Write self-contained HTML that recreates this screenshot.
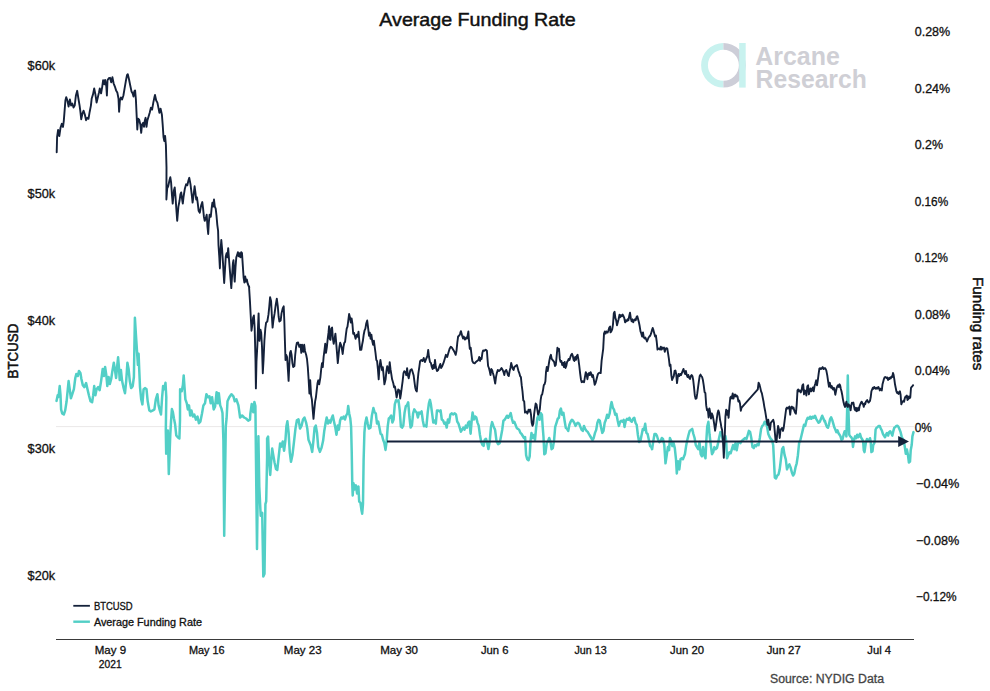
<!DOCTYPE html>
<html><head><meta charset="utf-8"><title>Average Funding Rate</title>
<style>
html,body{margin:0;padding:0;background:#fff;}
body{width:990px;height:691px;overflow:hidden;font-family:"Liberation Sans",sans-serif;}
svg{display:block;font-family:"Liberation Sans",sans-serif;}
</style></head><body>
<svg width="990" height="691" viewBox="0 0 990 691">
<rect width="990" height="691" fill="#ffffff"/>
<text x="379.3" y="25.6" font-size="17.8" text-anchor="start" fill="#111" font-weight="400" textLength="196.3" lengthAdjust="spacingAndGlyphs" stroke="#111" stroke-width="0.45">Average Funding Rate</text>
<g>
<path d="M723.4 43 A22.3 22.3 0 0 0 723.4 87.6 L723.4 80.8 A15.5 15.5 0 0 1 723.4 49.8 Z" fill="#c8f2ef"/>
<path d="M723.4 43 A22.3 22.3 0 0 1 723.4 87.6 L723.4 80.8 A15.5 15.5 0 0 0 723.4 49.8 Z" fill="#cdced8"/>
<rect x="739.2" y="43" width="6.5" height="44.6" fill="#c8f2ef"/>
</g>
<text x="755.3" y="65.0" font-size="25" text-anchor="start" fill="#cfcfd5" font-weight="700" textLength="84.5" lengthAdjust="spacingAndGlyphs">Arcane</text>
<text x="755.6" y="87.7" font-size="25" text-anchor="start" fill="#cfcfd5" font-weight="700" textLength="111.2" lengthAdjust="spacingAndGlyphs">Research</text>
<line x1="56" y1="426.6" x2="914" y2="426.6" stroke="#eae8e8" stroke-width="1"/>
<line x1="56" y1="639.5" x2="914" y2="639.5" stroke="#3a3a3a" stroke-width="1"/>
<text x="27.6" y="70.4" font-size="12.5" text-anchor="start" fill="#111" font-weight="400" textLength="27.6" lengthAdjust="spacingAndGlyphs" stroke="#111" stroke-width="0.3">$60k</text>
<text x="27.6" y="197.9" font-size="12.5" text-anchor="start" fill="#111" font-weight="400" textLength="27.6" lengthAdjust="spacingAndGlyphs" stroke="#111" stroke-width="0.3">$50k</text>
<text x="27.6" y="325.4" font-size="12.5" text-anchor="start" fill="#111" font-weight="400" textLength="27.6" lengthAdjust="spacingAndGlyphs" stroke="#111" stroke-width="0.3">$40k</text>
<text x="27.6" y="452.9" font-size="12.5" text-anchor="start" fill="#111" font-weight="400" textLength="27.6" lengthAdjust="spacingAndGlyphs" stroke="#111" stroke-width="0.3">$30k</text>
<text x="27.6" y="580.4" font-size="12.5" text-anchor="start" fill="#111" font-weight="400" textLength="27.6" lengthAdjust="spacingAndGlyphs" stroke="#111" stroke-width="0.3">$20k</text>
<text x="914.7" y="36.0" font-size="12.5" text-anchor="start" fill="#111" font-weight="400" textLength="35.5" lengthAdjust="spacingAndGlyphs" stroke="#111" stroke-width="0.3">0.28%</text>
<text x="914.7" y="92.5" font-size="12.5" text-anchor="start" fill="#111" font-weight="400" textLength="35.5" lengthAdjust="spacingAndGlyphs" stroke="#111" stroke-width="0.3">0.24%</text>
<text x="914.7" y="149.0" font-size="12.5" text-anchor="start" fill="#111" font-weight="400" textLength="28.4" lengthAdjust="spacingAndGlyphs" stroke="#111" stroke-width="0.3">0.2%</text>
<text x="914.7" y="205.5" font-size="12.5" text-anchor="start" fill="#111" font-weight="400" textLength="33.5" lengthAdjust="spacingAndGlyphs" stroke="#111" stroke-width="0.3">0.16%</text>
<text x="914.7" y="262.0" font-size="12.5" text-anchor="start" fill="#111" font-weight="400" textLength="33.2" lengthAdjust="spacingAndGlyphs" stroke="#111" stroke-width="0.3">0.12%</text>
<text x="914.7" y="318.5" font-size="12.5" text-anchor="start" fill="#111" font-weight="400" textLength="35.5" lengthAdjust="spacingAndGlyphs" stroke="#111" stroke-width="0.3">0.08%</text>
<text x="914.7" y="375.0" font-size="12.5" text-anchor="start" fill="#111" font-weight="400" textLength="35.2" lengthAdjust="spacingAndGlyphs" stroke="#111" stroke-width="0.3">0.04%</text>
<text x="914.7" y="431.5" font-size="12.5" text-anchor="start" fill="#111" font-weight="400" textLength="17.2" lengthAdjust="spacingAndGlyphs" stroke="#111" stroke-width="0.3">0%</text>
<text x="916.0" y="488.0" font-size="12.5" text-anchor="start" fill="#111" font-weight="400" textLength="43.3" lengthAdjust="spacingAndGlyphs" stroke="#111" stroke-width="0.3">−0.04%</text>
<text x="916.0" y="544.5" font-size="12.5" text-anchor="start" fill="#111" font-weight="400" textLength="43.3" lengthAdjust="spacingAndGlyphs" stroke="#111" stroke-width="0.3">−0.08%</text>
<text x="916.0" y="601.0" font-size="12.5" text-anchor="start" fill="#111" font-weight="400" textLength="40.6" lengthAdjust="spacingAndGlyphs" stroke="#111" stroke-width="0.3">−0.12%</text>
<text x="110.4" y="653.6" font-size="10.5" text-anchor="middle" fill="#111" font-weight="400" textLength="31.4" lengthAdjust="spacingAndGlyphs" stroke="#111" stroke-width="0.3">May 9</text>
<text x="206.8" y="653.6" font-size="10.5" text-anchor="middle" fill="#111" font-weight="400" textLength="35.7" lengthAdjust="spacingAndGlyphs" stroke="#111" stroke-width="0.3">May 16</text>
<text x="302.7" y="653.6" font-size="10.5" text-anchor="middle" fill="#111" font-weight="400" textLength="37.8" lengthAdjust="spacingAndGlyphs" stroke="#111" stroke-width="0.3">May 23</text>
<text x="399.1" y="653.6" font-size="10.5" text-anchor="middle" fill="#111" font-weight="400" textLength="37.8" lengthAdjust="spacingAndGlyphs" stroke="#111" stroke-width="0.3">May 30</text>
<text x="494.7" y="653.6" font-size="10.5" text-anchor="middle" fill="#111" font-weight="400" textLength="27.6" lengthAdjust="spacingAndGlyphs" stroke="#111" stroke-width="0.3">Jun 6</text>
<text x="590.6" y="653.6" font-size="10.5" text-anchor="middle" fill="#111" font-weight="400" textLength="32.3" lengthAdjust="spacingAndGlyphs" stroke="#111" stroke-width="0.3">Jun 13</text>
<text x="687" y="653.6" font-size="10.5" text-anchor="middle" fill="#111" font-weight="400" textLength="34" lengthAdjust="spacingAndGlyphs" stroke="#111" stroke-width="0.3">Jun 20</text>
<text x="783.7" y="653.6" font-size="10.5" text-anchor="middle" fill="#111" font-weight="400" textLength="34" lengthAdjust="spacingAndGlyphs" stroke="#111" stroke-width="0.3">Jun 27</text>
<text x="879.2" y="653.6" font-size="10.5" text-anchor="middle" fill="#111" font-weight="400" textLength="23.7" lengthAdjust="spacingAndGlyphs" stroke="#111" stroke-width="0.3">Jul 4</text>
<text x="110.2" y="667.8" font-size="10.5" text-anchor="middle" fill="#111" font-weight="400" textLength="22.8" lengthAdjust="spacingAndGlyphs" stroke="#111" stroke-width="0.3">2021</text>
<text x="770" y="682.7" font-size="12" text-anchor="start" fill="#444" font-weight="400" textLength="114" lengthAdjust="spacingAndGlyphs" stroke="#444" stroke-width="0.3">Source: NYDIG Data</text>
<text transform="translate(18.3,378.5) rotate(-90)" font-size="14.8" fill="#111" stroke="#111" stroke-width="0.55" textLength="54.8" lengthAdjust="spacingAndGlyphs">BTCUSD</text>
<text transform="translate(973.3,277.0) rotate(90)" font-size="14.6" fill="#111" stroke="#111" stroke-width="0.5" textLength="93.4" lengthAdjust="spacingAndGlyphs">Funding rates</text>
<line x1="73.3" y1="605.8" x2="89.9" y2="605.8" stroke="#14213a" stroke-width="1.8"/>
<line x1="73.3" y1="621.7" x2="89.9" y2="621.7" stroke="#52cfc6" stroke-width="2.4"/>
<text x="93.9" y="610.2" font-size="10" text-anchor="start" fill="#111" font-weight="400" textLength="38.8" lengthAdjust="spacingAndGlyphs" stroke="#111" stroke-width="0.3">BTCUSD</text>
<text x="93.9" y="626" font-size="10" text-anchor="start" fill="#111" font-weight="400" textLength="108.1" lengthAdjust="spacingAndGlyphs" stroke="#111" stroke-width="0.3">Average Funding Rate</text>
<path d="M56.5 400.9 L57.7 395.2 L58.5 396.9 L59.7 386.1 L60.5 395.2 L61.1 409.4 L62.2 413.5 L63.8 414.5 L65.2 410.4 L66.6 401.3 L67.8 389.2 L68.6 381.1 L69.7 389.2 L70.9 398.3 L72.3 394.2 L73.9 389.2 L75.3 378.0 L76.3 374.0 L77.8 376.0 L79.0 370.9 L80.4 372.9 L81.4 379.0 L82.8 385.1 L84.4 387.1 L86.1 383.1 L87.5 389.2 L88.9 395.2 L90.5 401.3 L92.1 402.3 L93.2 395.2 L94.2 386.1 L95.4 395.2 L96.6 389.2 L98.2 387.1 L99.6 390.2 L101.1 381.1 L102.7 368.9 L103.9 376.0 L105.1 366.9 L106.3 375.0 L107.3 386.1 L108.6 377.0 L109.8 384.1 L111.2 379.0 L112.4 370.9 L113.8 362.8 L114.8 368.9 L116.1 378.0 L117.1 366.9 L118.1 357.3 L118.9 366.9 L119.7 380.0 L120.9 369.9 L122.1 381.1 L123.4 387.1 L125.0 393.2 L126.2 381.1 L127.4 362.8 L128.6 368.9 L129.8 381.1 L131.1 388.1 L132.7 386.1 L133.9 377.0 L134.5 340.5 L134.9 317.8 L135.9 334.4 L137.1 352.7 L137.9 364.8 L138.6 353.7 L139.2 368.9 L140.0 387.1 L141.2 399.3 L142.4 404.4 L143.6 389.2 L145.2 388.1 L146.5 389.2 L147.7 401.3 L149.3 410.4 L150.9 411.4 L152.9 410.4 L154.4 409.4 L155.8 399.3 L157.4 394.2 L158.6 405.4 L159.8 410.4 L161.0 414.5 L162.1 397.3 L163.1 386.1 L164.3 389.2 L165.5 382.7 L166.3 397.3 L165.8 430.4 L166.2 453.7 L167.2 440.5 L167.8 430.4 L168.8 474.0 L169.7 450.7 L170.3 434.4 L171.1 420.3 L171.9 409.1 L172.9 412.2 L173.9 418.2 L175.1 424.3 L176.3 435.5 L178.0 437.5 L179.4 438.5 L180.0 420.3 L180.1 389.2 L181.7 391.2 L182.9 385.1 L183.7 375.4 L184.5 387.1 L185.4 399.3 L186.8 403.3 L187.8 409.4 L189.0 405.4 L190.2 415.5 L191.4 410.4 L192.9 416.5 L194.3 414.5 L195.9 419.6 L197.5 416.5 L198.9 423.2 L200.4 421.6 L202.0 413.5 L203.4 405.4 L205.0 403.3 L206.4 394.2 L208.1 397.3 L209.5 396.3 L210.7 403.3 L212.1 397.3 L213.7 409.4 L215.1 406.4 L216.6 392.2 L217.8 403.3 L218.8 393.2 L220.2 405.4 L221.4 408.4 L222.6 413.5 L222.5 413.2 L223.4 440.5 L224.2 535.8 L225.0 481.1 L225.8 426.3 L226.6 418.2 L227.5 401.3 L229.3 397.3 L231.4 394.2 L233.4 396.3 L234.8 401.3 L236.4 399.3 L238.4 405.4 L240.1 417.5 L242.1 415.5 L244.1 417.5 L246.1 418.5 L248.2 420.6 L250.0 419.6 L250.3 414.2 L251.7 404.1 L253.3 412.2 L254.4 402.0 L255.4 406.1 L256.0 460.8 L257.0 549.1 L258.4 436.2 L259.3 486.8 L260.7 515.8 L262.2 512.9 L263.3 576.6 L264.5 573.7 L265.4 504.2 L266.2 501.3 L267.1 457.9 L267.1 438.5 L268.1 436.5 L269.1 460.8 L270.2 475.0 L271.2 460.8 L272.2 448.6 L273.2 454.7 L274.6 462.8 L276.0 468.9 L277.3 469.9 L278.7 456.7 L280.1 443.6 L281.3 446.6 L282.7 441.5 L284.1 450.7 L285.4 440.5 L286.4 426.3 L287.4 421.3 L288.6 432.4 L289.8 452.7 L291.0 461.8 L292.5 454.7 L293.9 442.6 L295.5 428.4 L296.9 420.3 L298.5 419.3 L300.0 428.6 L301.6 425.6 L303.0 419.5 L304.5 417.5 L306.1 422.6 L307.3 428.6 L308.5 439.8 L309.7 442.8 L310.9 445.9 L312.2 451.9 L313.4 440.8 L314.6 427.6 L315.8 425.6 L317.0 432.7 L318.2 446.9 L319.9 451.9 L321.5 447.9 L323.1 440.8 L324.3 430.7 L325.5 423.6 L326.7 417.5 L328.0 423.6 L329.2 420.5 L330.4 422.6 L331.6 418.5 L332.8 415.5 L334.0 421.5 L335.3 427.6 L336.5 434.7 L337.7 425.6 L338.9 429.6 L340.1 420.5 L341.3 417.5 L342.6 418.5 L343.8 416.5 L345.0 419.5 L346.2 415.5 L347.4 413.4 L348.2 405.9 L349.2 413.4 L350.3 418.5 L351.1 426.6 L351.7 450.9 L352.3 485.4 L352.7 495.5 L353.5 483.3 L354.7 489.4 L355.9 485.4 L357.1 493.5 L358.4 486.4 L359.2 501.6 L360.4 502.6 L361.4 509.7 L362.2 513.7 L363.0 503.6 L363.6 461.1 L364.4 432.7 L365.2 423.6 L366.5 417.5 L367.7 423.6 L368.9 428.6 L370.5 427.6 L371.9 415.5 L373.4 408.0 L374.6 412.4 L375.8 413.4 L377.0 423.6 L378.2 421.5 L379.4 427.6 L380.6 433.7 L381.9 434.7 L383.1 439.8 L384.3 442.8 L385.5 449.9 L386.7 440.8 L387.7 426.6 L388.8 418.5 L390.0 417.5 L391.2 415.5 L392.4 422.6 L393.6 419.5 L394.8 404.3 L396.0 400.3 L397.3 401.3 L398.5 400.3 L399.7 410.4 L400.9 426.6 L402.1 427.6 L403.3 425.6 L404.6 412.4 L405.8 406.3 L407.0 405.3 L408.2 402.3 L409.4 416.5 L410.6 427.6 L411.9 425.6 L413.1 413.4 L414.3 409.4 L415.5 411.4 L416.7 412.4 L417.9 417.5 L419.1 412.4 L420.4 413.4 L421.6 411.4 L422.8 420.5 L424.0 426.2 L425.2 425.6 L426.4 426.6 L427.7 412.4 L428.9 403.3 L429.9 399.9 L430.9 404.3 L432.1 413.4 L433.3 422.6 L434.5 420.5 L435.8 423.6 L437.0 410.4 L438.2 410.4 L439.4 411.4 L440.6 410.4 L441.8 419.5 L443.1 420.5 L444.3 423.6 L445.5 422.6 L446.7 427.6 L447.9 419.5 L449.1 422.6 L450.4 414.4 L451.6 413.4 L453.2 414.4 L454.8 413.4 L456.0 414.4 L457.2 421.5 L458.5 423.6 L459.7 427.6 L460.9 431.7 L462.1 429.6 L463.3 427.6 L464.5 429.6 L465.8 425.6 L467.0 427.6 L468.2 422.6 L469.4 421.5 L470.6 433.7 L471.8 419.5 L472.6 412.4 L473.9 419.5 L475.1 416.5 L476.3 417.5 L477.5 422.6 L478.7 425.6 L479.9 434.7 L481.2 441.8 L482.4 444.8 L483.6 445.9 L484.8 439.8 L486.0 438.8 L487.2 442.8 L488.4 448.9 L489.7 441.8 L490.9 427.6 L492.1 422.1 L493.3 425.6 L494.5 428.6 L495.1 429.9 L496.5 441.1 L498.1 444.1 L499.7 443.1 L500.9 437.0 L502.2 429.9 L503.4 420.8 L504.6 419.8 L505.8 417.8 L507.0 415.7 L508.2 417.8 L509.5 415.7 L510.7 413.1 L511.9 418.8 L513.1 422.8 L514.3 421.8 L515.5 424.8 L516.7 427.9 L518.0 428.9 L519.2 429.9 L520.4 432.9 L521.6 434.0 L522.8 436.0 L524.0 438.0 L525.1 437.0 L526.1 455.2 L527.3 459.3 L528.5 460.3 L529.7 456.3 L530.5 441.1 L531.5 432.9 L532.6 438.0 L533.8 435.0 L535.0 440.0 L536.2 426.9 L537.4 417.8 L538.6 415.7 L539.6 419.8 L540.7 413.1 L541.9 414.7 L542.7 426.9 L543.5 437.0 L544.3 454.2 L545.5 453.2 L546.7 443.1 L548.0 441.1 L549.2 438.0 L550.4 441.1 L551.6 449.2 L552.8 448.1 L554.0 441.1 L555.2 426.9 L556.5 422.8 L557.7 418.8 L558.9 417.8 L559.9 410.7 L560.9 408.6 L562.1 414.7 L563.4 412.7 L564.6 420.8 L565.8 427.9 L567.0 428.9 L568.2 430.9 L569.4 424.8 L570.6 421.8 L571.9 419.8 L573.1 420.8 L574.3 422.8 L575.5 425.9 L576.7 423.8 L577.9 422.8 L579.2 423.8 L580.4 426.9 L581.6 429.9 L582.8 430.9 L584.0 425.9 L585.2 428.9 L586.5 430.9 L587.7 431.9 L588.9 434.0 L590.1 436.0 L591.3 438.0 L592.5 440.0 L593.7 438.0 L595.0 432.9 L596.2 429.9 L597.4 422.8 L598.6 419.8 L599.8 420.8 L601.0 426.9 L602.3 432.9 L603.5 430.9 L604.7 422.8 L605.9 419.8 L607.1 414.7 L608.3 417.8 L609.6 413.7 L610.8 405.6 L611.6 402.1 L612.8 407.6 L614.0 409.6 L615.2 414.7 L616.4 413.7 L617.7 420.8 L618.9 425.9 L620.1 421.8 L621.3 420.8 L622.5 421.8 L623.7 419.8 L624.5 426.9 L625.8 420.8 L627.0 418.8 L628.2 419.8 L629.4 417.8 L630.6 420.8 L631.8 421.8 L633.1 418.8 L634.3 417.8 L635.5 422.8 L636.7 424.8 L637.9 435.0 L639.1 442.1 L640.4 441.1 L641.6 435.0 L642.8 428.9 L644.0 429.9 L645.2 423.8 L646.4 432.9 L647.6 434.0 L648.9 440.0 L650.1 446.1 L651.3 447.1 L652.1 449.2 L653.3 441.1 L654.5 434.0 L655.8 434.0 L657.0 436.0 L658.2 440.0 L659.4 442.1 L660.6 441.1 L661.8 438.0 L663.0 439.0 L664.3 445.1 L665.5 463.3 L666.7 455.2 L667.9 447.1 L669.1 450.2 L669.9 438.0 L671.2 441.1 L672.4 446.1 L673.6 443.1 L674.8 448.1 L676.0 459.3 L676.8 473.5 L678.0 461.3 L679.3 469.4 L680.5 459.3 L681.7 458.3 L682.9 459.3 L684.1 456.3 L684.9 454.2 L686.1 446.1 L687.3 440.0 L688.5 435.0 L689.7 430.9 L690.9 429.9 L692.2 428.9 L693.4 434.0 L694.6 438.0 L695.8 445.1 L697.0 447.1 L698.2 449.2 L699.5 442.1 L700.7 454.2 L701.9 456.3 L703.1 447.1 L704.3 455.2 L705.5 458.3 L706.3 441.1 L707.2 426.9 L708.4 421.8 L709.6 435.0 L710.8 445.1 L712.0 454.2 L713.2 452.2 L714.4 447.1 L715.7 449.2 L716.9 448.1 L718.1 443.1 L719.3 437.0 L720.5 431.9 L721.7 434.0 L723.0 441.1 L724.2 437.0 L725.4 436.0 L726.2 441.1 L727.0 458.3 L728.2 455.2 L729.4 452.2 L730.7 453.2 L731.9 449.2 L733.1 445.1 L734.3 449.2 L735.5 443.1 L736.7 450.2 L738.0 443.1 L739.2 442.1 L740.4 443.1 L741.6 441.1 L742.8 440.0 L744.0 439.0 L745.2 438.0 L746.5 439.0 L747.7 435.0 L748.9 430.9 L750.1 431.9 L751.3 438.0 L752.5 447.1 L753.8 448.1 L755.0 445.1 L756.2 446.1 L757.4 444.1 L758.6 445.1 L759.8 438.0 L761.1 428.9 L762.3 425.9 L763.5 424.8 L764.7 421.8 L765.9 422.8 L767.1 426.9 L768.3 434.0 L769.6 437.0 L770.8 439.0 L772.0 440.0 L773.2 445.1 L774.0 461.3 L774.8 477.5 L776.0 478.5 L777.3 475.5 L778.5 474.5 L779.7 469.4 L780.9 459.3 L782.1 449.2 L783.3 447.1 L784.6 455.2 L785.8 459.3 L787.0 469.4 L788.2 466.4 L789.4 464.4 L790.6 467.4 L791.9 472.5 L793.1 475.5 L794.3 473.5 L795.5 467.4 L796.7 463.3 L797.9 455.2 L799.1 443.1 L800.4 440.0 L801.6 435.0 L802.8 429.9 L804.0 424.8 L805.2 425.9 L806.4 420.8 L807.7 417.8 L808.9 418.8 L810.1 416.7 L811.3 418.8 L812.5 416.7 L813.7 417.8 L815.0 415.7 L816.2 418.8 L817.4 420.8 L818.6 422.8 L819.8 421.8 L821.0 418.8 L822.2 415.7 L823.5 418.8 L824.7 421.8 L824.9 420.8 L825.9 424.3 L826.9 426.9 L828.0 427.7 L829.0 424.3 L830.1 419.1 L831.1 417.3 L832.2 419.9 L833.2 423.4 L834.2 426.9 L835.3 429.5 L836.3 432.1 L837.4 430.3 L838.4 433.0 L839.5 434.7 L840.5 436.4 L841.5 439.9 L842.6 439.0 L843.6 434.7 L844.7 431.2 L845.7 433.0 L846.4 436.4 L847.1 412.1 L847.8 375.6 L848.5 412.1 L849.2 434.7 L850.2 436.4 L851.3 437.3 L852.3 439.0 L853.0 446.9 L854.0 439.9 L855.1 436.4 L856.1 438.2 L857.2 434.7 L858.2 437.3 L859.3 435.6 L860.0 433.8 L861.0 437.3 L862.0 439.0 L863.1 440.8 L863.8 450.3 L864.5 452.1 L865.2 446.9 L865.9 442.5 L866.9 439.0 L867.9 439.9 L869.0 440.8 L870.0 438.2 L870.7 441.6 L871.4 452.1 L872.5 451.2 L873.2 445.1 L874.2 443.4 L874.9 439.9 L875.6 429.5 L876.6 427.7 L877.7 426.9 L878.7 426.0 L879.8 426.0 L880.8 428.6 L881.8 430.3 L882.9 433.8 L883.9 435.6 L885.0 437.3 L886.0 434.7 L887.0 433.0 L888.1 435.6 L889.1 432.1 L890.2 431.2 L891.2 433.0 L892.3 435.6 L893.3 431.2 L894.3 427.7 L895.4 426.9 L896.4 426.0 L897.5 425.7 L898.5 426.9 L899.6 429.5 L900.6 432.1 L901.6 436.4 L902.7 439.0 L903.7 439.9 L904.8 446.9 L905.8 453.8 L906.9 449.5 L907.9 454.7 L908.9 462.5 L910.0 461.6 L910.7 450.3 L911.7 445.1 L912.4 436.4 L913.5 432.1" fill="none" stroke="#52cfc6" stroke-width="2.5" stroke-linejoin="round" stroke-linecap="round"/>
<path d="M56.7 152.2 L57.1 137.0 L58.1 129.9 L59.3 136.0 L60.5 127.9 L61.8 123.8 L63.0 126.9 L63.8 120.8 L64.6 110.7 L65.4 100.5 L66.2 97.1 L67.4 100.5 L68.6 106.6 L69.9 99.5 L71.1 105.6 L72.3 103.6 L73.5 107.6 L74.7 105.6 L75.9 95.5 L77.2 90.8 L78.4 98.5 L79.6 105.6 L80.4 111.7 L81.2 119.2 L82.4 113.7 L83.6 110.7 L84.9 114.7 L86.1 120.2 L87.3 117.8 L88.5 118.8 L89.7 111.7 L90.9 105.6 L91.7 98.5 L93.0 94.4 L94.2 88.4 L95.4 94.4 L96.6 102.6 L97.8 97.5 L99.0 92.4 L99.8 88.4 L101.1 93.4 L102.3 86.3 L103.1 80.3 L104.3 84.3 L105.1 79.9 L106.3 86.3 L106.9 95.5 L107.5 80.3 L108.8 78.2 L110.0 77.8 L111.2 82.3 L112.4 77.2 L113.6 83.3 L114.8 86.3 L116.1 90.4 L117.3 92.4 L118.5 98.5 L119.1 111.7 L119.9 100.5 L120.9 97.5 L122.1 99.5 L123.4 95.5 L124.6 88.4 L125.8 81.3 L127.0 75.2 L127.8 74.2 L129.0 79.3 L130.2 85.3 L131.5 91.4 L132.7 93.4 L133.5 96.5 L134.3 91.4 L135.1 90.4 L135.9 99.5 L136.7 116.7 L137.3 129.5 L138.1 118.8 L139.2 119.8 L140.4 124.8 L141.2 132.9 L142.0 124.8 L143.2 122.8 L144.0 126.9 L144.8 120.8 L145.6 117.8 L146.5 126.9 L147.3 120.8 L148.5 116.7 L149.7 112.7 L150.9 107.6 L152.1 109.6 L153.3 102.6 L154.6 96.5 L155.0 94.9 L156.2 100.5 L157.4 102.6 L158.6 108.6 L159.4 112.7 L160.6 108.6 L161.9 114.7 L162.7 124.8 L163.5 137.0 L164.3 141.1 L165.1 136.0 L165.9 145.1 L166.5 167.4 L166.4 199.5 L167.2 188.4 L168.2 186.3 L169.5 180.3 L170.3 177.2 L171.1 182.3 L171.9 194.4 L172.7 203.6 L173.9 190.4 L174.7 187.4 L175.5 196.5 L176.3 208.6 L177.2 220.8 L178.4 206.6 L179.6 200.5 L180.4 194.4 L181.2 192.4 L182.0 198.5 L182.8 203.6 L183.6 196.5 L184.9 188.4 L186.1 184.3 L187.3 185.3 L188.5 180.3 L189.3 177.8 L190.5 184.3 L191.7 194.4 L192.6 202.6 L193.4 196.5 L194.6 186.3 L195.4 192.4 L196.2 199.5 L197.0 197.5 L197.8 203.6 L198.6 210.7 L199.8 212.7 L201.1 205.6 L202.3 202.1 L203.1 208.6 L203.9 216.7 L204.7 220.8 L205.9 217.8 L206.7 214.7 L207.5 226.9 L208.2 234.0 L208.8 222.8 L209.6 214.7 L210.8 216.7 L211.6 208.6 L212.4 202.6 L213.2 206.6 L214.0 199.5 L214.8 206.6 L215.7 208.6 L216.5 215.7 L217.3 224.8 L218.1 230.9 L218.5 245.1 L219.3 257.3 L219.9 268.4 L220.5 251.2 L221.3 240.0 L222.1 249.2 L222.9 261.3 L223.6 273.5 L224.2 283.0 L225.0 269.4 L225.8 256.3 L226.6 253.2 L227.4 257.3 L228.2 248.1 L229.0 259.3 L229.8 269.4 L230.6 279.6 L231.3 288.1 L232.1 275.5 L232.9 263.3 L233.5 260.3 L234.1 273.5 L234.7 281.6 L235.5 267.4 L236.3 257.3 L237.1 255.2 L237.9 252.2 L238.8 256.3 L239.6 253.2 L240.4 257.3 L241.2 252.2 L242.0 253.2 L242.8 265.4 L243.6 277.5 L244.4 282.6 L245.2 276.5 L246.0 281.6 L246.9 279.6 L247.7 283.6 L248.5 285.6 L249.3 287.7 L249.0 286.1 L249.9 300.3 L250.7 315.5 L251.5 330.7 L252.3 324.6 L253.1 317.5 L253.9 315.5 L254.7 328.6 L255.5 361.1 L255.9 388.4 L256.5 361.1 L257.4 344.8 L258.0 327.6 L258.6 313.4 L259.4 340.8 L260.4 329.6 L261.2 332.7 L262.0 346.9 L262.8 373.2 L263.6 359.0 L264.4 340.8 L265.3 328.6 L266.1 322.6 L267.3 321.5 L268.5 314.4 L269.3 306.3 L270.1 297.2 L271.1 301.3 L271.9 316.5 L272.6 327.6 L273.4 320.5 L274.6 313.4 L275.8 304.3 L276.8 298.6 L277.8 306.3 L278.6 316.5 L279.4 321.5 L280.7 320.5 L281.5 313.4 L282.7 308.4 L283.7 306.3 L284.3 320.5 L284.9 340.8 L285.5 360.0 L286.3 355.0 L287.1 357.0 L288.0 371.2 L288.6 380.9 L289.2 367.1 L290.0 352.9 L290.8 350.9 L291.6 355.0 L292.4 363.1 L293.2 367.1 L294.4 366.1 L295.2 355.0 L296.1 346.9 L296.9 342.8 L298.1 342.4 L299.3 346.9 L300.5 344.8 L301.3 352.9 L302.1 344.8 L303.4 351.9 L304.2 344.8 L305.0 350.9 L306.2 355.0 L307.0 359.0 L307.8 367.1 L308.6 379.3 L309.4 393.5 L310.2 380.3 L311.1 395.5 L311.9 399.6 L312.7 409.7 L313.5 418.8 L314.3 409.7 L315.1 401.6 L315.9 397.5 L316.7 390.4 L317.5 383.3 L318.3 380.3 L319.2 384.4 L320.4 377.3 L321.2 369.2 L322.0 363.1 L322.8 367.1 L323.6 357.0 L324.4 350.9 L325.2 343.8 L326.0 352.9 L326.9 346.9 L327.7 338.8 L328.5 332.7 L329.1 326.2 L329.7 338.8 L330.5 339.8 L331.3 328.6 L332.1 327.6 L332.9 338.8 L333.7 343.8 L334.6 338.8 L335.4 333.7 L336.2 342.8 L337.0 352.9 L337.8 363.1 L338.6 355.0 L339.4 346.9 L340.2 342.8 L341.0 344.8 L341.9 348.9 L342.7 354.0 L343.5 346.9 L344.3 342.8 L345.1 341.8 L345.9 334.7 L346.7 328.6 L347.5 326.6 L348.3 320.5 L349.1 314.0 L350.0 317.5 L350.8 322.6 L351.6 318.5 L352.4 323.6 L353.2 333.7 L354.0 332.7 L354.8 335.7 L355.6 338.8 L356.8 334.7 L357.7 336.7 L358.5 331.7 L359.3 340.8 L360.1 349.9 L361.3 349.9 L362.1 344.8 L362.9 340.8 L363.7 334.7 L364.5 330.7 L365.4 328.6 L366.2 323.6 L367.2 320.5 L368.2 328.6 L369.0 335.7 L369.8 332.7 L370.6 338.8 L371.4 334.7 L372.2 340.8 L373.1 344.8 L373.9 340.8 L374.7 346.9 L375.5 352.9 L376.3 360.0 L377.1 361.1 L377.9 369.2 L378.7 379.3 L379.5 367.1 L380.4 360.0 L381.2 365.1 L382.0 370.2 L382.8 367.1 L383.6 375.2 L384.4 384.4 L385.6 379.3 L386.4 371.2 L387.2 366.1 L388.1 369.2 L388.9 373.2 L389.7 362.1 L390.5 369.2 L391.3 374.2 L392.1 379.3 L393.3 383.3 L394.1 387.4 L394.9 386.4 L395.8 391.4 L396.6 397.5 L397.4 393.5 L398.2 389.4 L399.4 390.4 L400.2 398.5 L401.0 393.5 L401.8 387.4 L402.6 381.3 L403.5 373.2 L404.3 371.2 L405.5 372.2 L406.3 375.2 L407.1 368.1 L407.9 375.2 L408.7 378.3 L409.5 374.2 L410.3 370.2 L411.6 369.2 L412.4 371.2 L413.6 375.2 L414.4 381.3 L415.2 387.4 L416.0 390.4 L416.8 391.4 L417.6 381.3 L418.4 373.2 L419.3 367.1 L420.1 361.1 L421.3 360.0 L422.5 361.1 L423.7 358.0 L424.9 362.1 L426.1 359.0 L427.4 356.0 L428.2 349.9 L429.0 357.0 L430.0 362.1 L430.9 362.9 L431.8 367.0 L432.6 369.0 L433.4 365.0 L434.2 368.0 L435.0 359.9 L435.8 367.0 L437.0 371.1 L438.2 370.0 L439.5 366.0 L440.3 364.0 L441.1 368.0 L442.3 366.0 L443.5 362.9 L444.7 358.9 L445.9 354.8 L447.2 356.9 L448.4 352.8 L449.6 348.8 L450.8 346.7 L452.0 347.8 L453.2 349.8 L454.4 351.8 L455.7 354.8 L456.5 350.8 L457.3 342.7 L458.1 336.6 L459.3 335.6 L460.1 333.6 L460.9 331.1 L462.1 335.6 L463.0 338.6 L463.8 336.6 L465.0 339.6 L466.2 337.6 L467.0 338.6 L467.8 334.6 L468.4 331.5 L469.0 340.7 L469.8 348.8 L470.7 347.8 L471.5 354.8 L472.3 360.9 L473.5 362.9 L474.7 363.4 L475.9 361.9 L477.1 360.9 L478.4 359.9 L479.2 356.9 L480.0 360.9 L480.8 357.9 L481.6 358.9 L482.4 352.8 L483.2 350.4 L484.4 350.8 L485.7 349.8 L486.9 350.8 L487.5 358.9 L488.1 366.0 L488.9 368.0 L489.7 371.1 L490.5 375.1 L491.3 369.0 L492.1 370.0 L492.9 373.1 L493.8 376.1 L494.6 380.2 L495.2 383.6 L496.0 377.1 L496.8 373.1 L497.8 370.0 L499.0 371.1 L500.2 370.0 L501.5 368.0 L502.7 370.0 L503.5 372.1 L504.3 375.1 L505.1 371.1 L506.3 370.0 L507.1 372.1 L507.9 375.1 L508.8 376.1 L509.6 371.1 L510.4 368.0 L511.2 362.9 L512.0 366.0 L512.8 369.0 L513.6 370.0 L514.4 367.0 L515.6 366.0 L516.9 365.0 L517.7 368.0 L518.5 371.1 L519.3 373.1 L520.1 376.1 L520.9 377.1 L521.7 385.2 L522.5 391.3 L523.3 400.4 L524.2 401.4 L525.0 412.6 L526.2 411.6 L527.4 413.6 L528.6 409.6 L529.4 411.6 L530.2 409.6 L531.0 414.6 L531.7 422.7 L532.5 425.8 L533.3 423.7 L534.1 414.6 L534.9 408.5 L535.7 403.5 L536.5 404.5 L537.3 409.6 L538.1 414.6 L538.9 412.6 L539.8 409.6 L540.6 400.4 L541.4 395.4 L542.2 394.4 L543.0 390.3 L543.8 385.2 L544.6 384.2 L545.4 381.2 L546.0 372.1 L546.8 367.0 L547.7 371.1 L548.5 366.0 L549.3 360.9 L550.1 356.9 L550.9 354.8 L551.7 358.9 L552.5 359.9 L553.3 360.9 L554.1 361.9 L555.0 366.0 L555.8 365.0 L556.6 356.9 L557.4 347.8 L558.2 350.8 L559.0 348.8 L559.8 358.9 L560.6 361.9 L561.4 360.9 L562.2 365.0 L563.1 362.9 L563.9 367.0 L564.7 361.9 L565.5 368.0 L566.3 366.0 L567.1 361.9 L567.9 360.9 L568.7 358.9 L569.5 359.9 L570.4 356.9 L571.2 354.8 L572.0 353.8 L572.8 355.9 L573.6 359.9 L574.4 360.9 L575.2 356.9 L576.0 359.9 L576.8 355.9 L577.6 354.8 L578.5 359.9 L579.3 366.0 L580.1 373.1 L580.9 379.2 L581.7 382.2 L582.9 381.2 L584.1 382.2 L584.9 377.1 L585.8 372.1 L586.6 374.1 L587.4 379.2 L588.2 374.1 L589.0 373.1 L589.8 375.1 L590.6 372.1 L591.4 374.1 L592.2 377.1 L593.0 375.1 L593.9 380.2 L594.7 384.8 L595.5 383.2 L596.3 380.2 L597.1 377.1 L597.9 374.1 L598.7 373.1 L599.9 372.7 L600.7 373.1 L601.6 360.9 L602.4 354.8 L603.2 348.8 L604.0 333.6 L604.8 331.5 L605.6 333.6 L606.4 331.5 L607.6 332.6 L608.4 330.5 L609.3 327.5 L610.1 326.5 L610.5 332.4 L611.3 331.4 L612.2 329.4 L613.0 324.3 L613.8 313.2 L614.6 311.8 L615.4 318.2 L616.2 320.3 L617.0 325.3 L617.8 322.3 L618.6 319.3 L619.5 314.6 L620.3 317.2 L621.1 315.2 L621.9 316.2 L622.7 314.6 L623.5 316.2 L624.3 318.2 L625.1 322.3 L625.9 320.3 L626.7 321.3 L627.6 319.3 L628.4 320.3 L629.2 316.2 L630.0 312.6 L630.8 318.2 L631.6 321.3 L632.4 319.3 L633.2 322.3 L634.0 320.3 L634.9 319.3 L635.7 320.3 L636.5 317.2 L637.3 316.2 L638.1 319.3 L638.9 322.3 L639.7 326.3 L640.5 331.4 L641.3 333.4 L642.1 336.5 L643.0 332.4 L643.8 337.5 L644.6 338.5 L645.4 337.5 L646.2 339.5 L647.0 341.5 L647.8 339.5 L648.6 337.5 L649.4 336.5 L650.3 335.5 L651.1 333.4 L651.9 330.4 L652.7 328.0 L653.5 330.4 L654.3 333.4 L655.1 336.5 L655.9 335.5 L656.7 341.5 L657.5 349.6 L658.8 348.6 L660.0 349.6 L660.8 346.6 L661.6 349.6 L662.4 347.6 L663.2 348.6 L664.0 347.6 L664.8 351.7 L665.7 348.6 L666.5 348.2 L667.3 348.6 L668.1 353.7 L668.9 358.8 L669.7 365.9 L670.5 364.8 L671.3 375.0 L672.1 380.0 L672.9 378.0 L673.8 376.0 L674.6 370.9 L675.4 370.5 L676.2 374.0 L677.0 383.1 L677.8 377.0 L678.6 374.0 L679.4 376.0 L680.2 374.0 L681.1 375.0 L681.9 372.9 L682.7 370.9 L683.5 368.9 L684.3 371.9 L685.1 374.0 L685.9 370.9 L686.7 375.0 L687.5 377.0 L688.3 375.0 L689.2 378.0 L690.0 379.0 L690.8 376.0 L691.6 375.0 L692.4 376.0 L693.2 380.0 L694.0 387.1 L694.8 395.2 L695.6 398.9 L696.5 398.3 L697.3 393.2 L698.1 387.1 L698.9 381.1 L699.7 376.0 L700.5 374.6 L701.3 376.0 L702.1 377.0 L702.9 380.0 L703.7 385.1 L704.6 392.2 L705.4 393.2 L706.2 405.4 L707.0 410.4 L707.8 409.4 L708.6 417.5 L709.4 408.4 L710.2 412.5 L711.0 418.5 L711.9 413.5 L712.7 415.5 L713.5 419.6 L714.3 424.6 L715.1 430.7 L715.9 425.6 L716.7 419.6 L717.5 413.5 L718.3 410.4 L719.1 412.5 L720.0 419.6 L720.8 423.6 L721.3 426.9 L722.1 429.9 L723.0 441.1 L723.8 457.7 L724.6 441.1 L725.4 416.7 L726.2 409.6 L727.0 414.7 L727.8 410.7 L728.6 417.8 L729.4 406.6 L730.3 397.5 L731.1 396.5 L731.9 398.5 L732.7 393.4 L733.5 398.5 L734.3 395.5 L735.1 394.4 L735.9 396.5 L736.7 395.5 L737.5 396.5 L738.4 401.5 L739.2 400.5 L740.0 403.6 L740.8 410.7 L741.6 407.6 L757.8 389.4 L758.6 382.7 L759.4 384.3 L760.2 387.4 L761.1 391.4 L761.9 393.4 L762.7 397.5 L763.5 401.5 L764.3 406.6 L765.1 410.7 L765.9 415.7 L766.7 420.8 L767.5 424.8 L768.3 419.8 L769.2 426.9 L770.0 429.9 L770.8 422.8 L771.6 421.8 L772.4 420.8 L773.2 419.8 L774.0 422.8 L774.8 431.9 L775.6 441.1 L776.5 442.1 L777.3 432.9 L778.1 425.9 L778.9 428.9 L779.7 438.0 L780.5 429.9 L781.3 428.9 L782.1 427.9 L782.9 430.9 L783.7 427.9 L784.6 420.8 L785.4 414.7 L786.2 408.6 L787.0 407.6 L787.8 408.6 L788.6 407.6 L789.4 406.6 L790.2 414.7 L791.0 407.6 L791.9 406.6 L792.7 408.6 L793.5 407.6 L794.3 410.7 L795.1 412.7 L795.9 413.7 L796.7 404.6 L797.5 390.4 L798.3 389.4 L799.1 391.4 L800.0 390.4 L800.8 392.4 L801.6 390.4 L802.4 385.3 L803.2 384.3 L804.0 394.4 L804.8 390.4 L805.6 391.4 L806.4 395.5 L807.3 386.3 L808.1 385.3 L808.9 394.4 L809.7 390.4 L810.5 388.4 L811.3 391.4 L812.1 389.4 L812.9 387.4 L813.7 391.4 L814.5 386.3 L815.4 383.3 L816.2 380.3 L817.0 385.3 L817.8 380.3 L818.6 374.2 L819.4 368.5 L820.2 368.1 L821.0 369.1 L821.8 368.1 L822.7 367.1 L823.5 369.1 L824.3 368.1 L825.2 368.3 L826.3 370.4 L827.3 375.6 L828.3 382.6 L829.0 386.9 L829.7 382.6 L830.4 385.2 L831.1 387.8 L831.8 386.1 L832.5 388.7 L833.2 389.5 L833.9 387.8 L834.6 390.4 L835.3 394.7 L836.0 391.3 L836.7 387.8 L837.4 386.1 L838.1 385.2 L838.8 386.9 L839.5 384.3 L840.1 385.2 L840.8 388.7 L841.5 391.3 L842.2 394.7 L842.9 399.1 L843.6 402.6 L844.3 405.2 L845.0 406.9 L845.7 404.3 L846.4 401.7 L847.1 406.0 L847.8 406.9 L848.5 404.3 L849.2 405.2 L849.9 406.0 L850.6 410.4 L851.3 405.2 L852.0 402.6 L852.7 403.4 L853.4 402.6 L854.0 406.0 L854.7 409.5 L855.4 410.4 L856.1 407.8 L856.8 411.2 L857.5 410.4 L858.2 407.8 L858.9 410.4 L859.6 406.0 L860.3 404.3 L861.0 402.6 L861.7 401.7 L862.4 403.4 L863.1 404.3 L863.8 406.9 L864.5 403.4 L865.2 404.3 L865.9 401.7 L866.6 400.8 L867.2 400.0 L867.9 401.7 L868.6 402.6 L869.3 401.7 L870.0 400.8 L870.7 397.3 L871.4 391.3 L872.1 389.5 L872.8 387.8 L873.5 388.7 L874.2 386.9 L874.9 387.8 L875.6 388.7 L876.3 387.8 L877.0 388.7 L877.7 387.8 L878.4 386.9 L879.1 388.7 L879.8 390.4 L880.4 388.7 L881.1 389.5 L881.8 390.4 L882.5 384.3 L883.2 381.7 L883.9 379.1 L884.6 377.4 L885.3 377.0 L886.0 377.4 L886.7 378.2 L887.4 377.4 L888.1 380.0 L888.8 378.2 L889.5 379.1 L890.2 377.4 L890.9 378.2 L891.6 376.5 L892.3 377.0 L893.0 373.0 L893.6 374.8 L894.3 379.1 L895.0 384.3 L895.7 387.8 L896.4 391.3 L897.1 393.0 L897.8 392.1 L898.5 393.9 L899.2 393.0 L899.9 391.3 L900.6 394.7 L901.3 404.3 L902.0 402.6 L902.7 401.7 L903.4 400.8 L904.1 401.7 L904.8 398.2 L905.5 396.5 L906.2 397.3 L906.9 395.6 L907.5 400.0 L908.2 399.1 L908.9 396.5 L909.6 398.2 L910.3 397.3 L911.0 387.8 L911.7 386.9 L912.4 386.1 L913.1 385.2" fill="none" stroke="#14213a" stroke-width="1.9" stroke-linejoin="round" stroke-linecap="round"/>
<line x1="387" y1="441.6" x2="900" y2="441.6" stroke="#14213a" stroke-width="2"/>
<path d="M898.2 436 L909 441.4 L898.2 446.9 Z" fill="#14213a"/>
</svg></body></html>
